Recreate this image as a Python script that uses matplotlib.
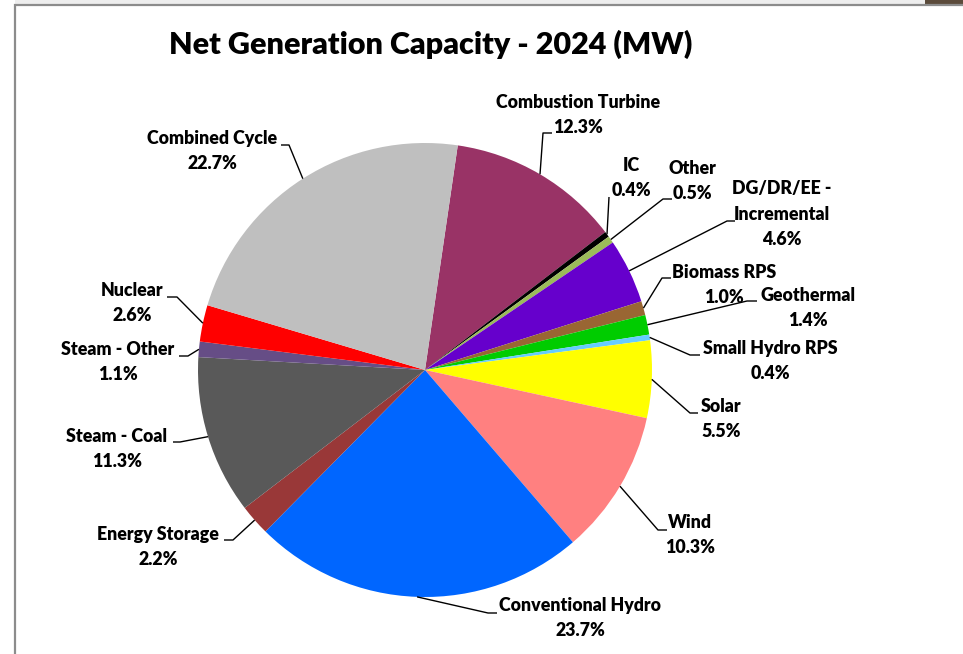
import matplotlib
matplotlib.use("Agg")
import matplotlib.pyplot as plt
import numpy as np
from matplotlib.patches import Rectangle

# ---- data ----
categories = ["Combustion Turbine", "IC", "Other", "DG/DR/EE -\nIncremental",
              "Biomass RPS", "Geothermal", "Small Hydro RPS", "Solar", "Wind",
              "Conventional Hydro", "Energy Storage", "Steam - Coal",
              "Steam - Other", "Nuclear", "Combined Cycle"]
values = [12.3, 0.4, 0.5, 4.6, 1.0, 1.4, 0.4, 5.5, 10.3, 23.7, 2.2, 11.3, 1.1, 2.6, 22.7]
colors = ["#993366", "#000000", "#9BBB59", "#6600CC", "#996633", "#00CC00",
          "#66CCFF", "#FFFF00", "#FF8080", "#0066FF", "#993838", "#595959",
          "#664D86", "#FF0000", "#BFBFBF"]

title = "Net Generation Capacity - 2024 (MW)"

W, H = 963, 654
def Y(y):
    return H - y

# label layout (pixel coords: text center, elbow, end of leader)
layout = [
    ((578, 115), (543, 133), (552, 133)),   # Combustion Turbine
    ((631, 178), (609, 197), (609, 197)),   # IC
    ((692, 181), (663, 199), (672, 199)),   # Other
    ((782, 214), (727, 221), (735, 221)),   # DG
    ((724, 285), (662, 278), (671, 278)),   # Biomass
    ((808, 308), (747, 301), (757, 301)),   # Geothermal
    ((770, 361), (690, 355), (700, 355)),   # Small Hydro
    ((721, 419), (690, 413), (698, 413)),   # Solar
    ((690, 535), (658, 530), (667, 530)),   # Wind
    ((580, 618), (488, 613), (497, 613)),   # Conventional Hydro
    ((158, 547), (233, 540), (224, 540)),   # Energy Storage
    ((117, 449), (180, 442), (173, 442)),   # Steam - Coal
    ((118, 362), (188, 356), (179, 356)),   # Steam - Other
    ((132, 303), (177, 297), (167, 297)),   # Nuclear
    ((212, 151), (289, 145), (281, 145)),   # Combined Cycle
]

plt.rcParams['font.family'] = ['Lato', 'DejaVu Sans']

fig = plt.figure(figsize=(W / 100, H / 100), dpi=100)
ax = fig.add_axes([0, 0, 1, 1])

cx, cy, R = 425, 370, 227
start = 90 - 8.3
wedges, _ = ax.pie(values, colors=colors, startangle=start, counterclock=False,
                   center=(cx, Y(cy)), radius=R,
                   wedgeprops=dict(linewidth=0))

ax.set_xlim(0, W)
ax.set_ylim(0, H)
ax.set_aspect('equal')
ax.axis('off')

for w, cat, val, (tc, elbow, end) in zip(wedges, categories, values, layout):
    mid = np.deg2rad((w.theta1 + w.theta2) / 2)
    ax0 = w.center[0] + w.r * np.cos(mid)
    ay0 = w.center[1] + w.r * np.sin(mid)
    ax.plot([ax0, elbow[0], end[0]], [ay0, Y(elbow[1]), Y(end[1])],
            color="black", lw=1.0, solid_capstyle='butt')
    ax.text(tc[0], Y(tc[1]), f"{cat}\n{val:.1f}%", ha='center', va='center',
            fontsize=12.8, fontweight='heavy', linespacing=1.62, color='black')

ax.text(431, Y(44), title, ha='center', va='center', fontsize=22,
        fontweight='heavy', color='black')

# frame decorations
ax.add_patch(Rectangle((15, Y(3.5)), 910, 3.5, color="#eeeeee", lw=0))
ax.add_patch(Rectangle((925, Y(4.5)), 38, 4.5, color="#5b4b3b", lw=0))
ax.plot([15, 15, W], [0, Y(4.5), Y(4.5)], color="#8c8c8c", lw=1.6,
        solid_joinstyle='miter')

fig.savefig("out.png", dpi=100)
